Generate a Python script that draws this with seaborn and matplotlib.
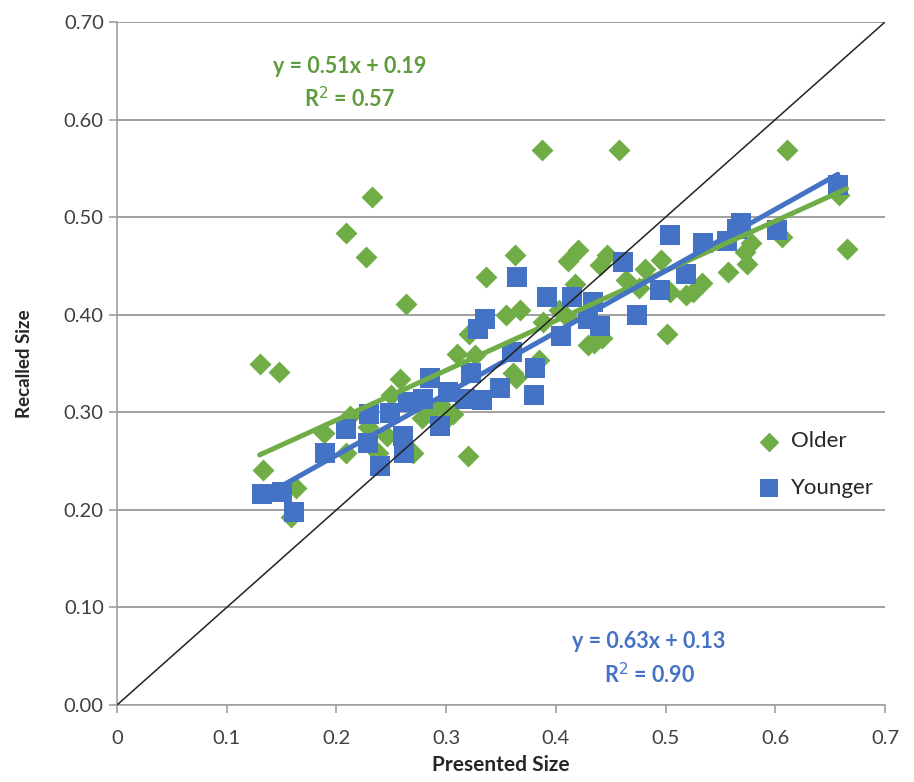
import numpy as np
import pandas as pd
import seaborn as sns
import matplotlib.pyplot as plt
from matplotlib.ticker import FixedLocator, FuncFormatter

# Older participants (green diamonds)
older_x = [0.130, 0.148, 0.133, 0.163, 0.159, 0.189, 0.209, 0.227, 0.232, 0.209,
           0.212, 0.229, 0.238, 0.246, 0.250, 0.258, 0.263, 0.270, 0.278, 0.285,
           0.294, 0.303, 0.306, 0.310, 0.320, 0.321, 0.326, 0.336, 0.355, 0.361,
           0.364, 0.363, 0.367, 0.385, 0.388, 0.387, 0.403, 0.410, 0.417, 0.411,
           0.420, 0.429, 0.435, 0.442, 0.440, 0.447, 0.458, 0.464, 0.476, 0.481,
           0.496, 0.501, 0.504, 0.519, 0.525, 0.533, 0.557, 0.574, 0.572, 0.578,
           0.606, 0.611, 0.658, 0.665]
older_y = [0.350, 0.341, 0.241, 0.222, 0.193, 0.279, 0.484, 0.459, 0.521, 0.258,
           0.296, 0.285, 0.258, 0.276, 0.318, 0.334, 0.411, 0.258, 0.294, 0.299,
           0.308, 0.296, 0.298, 0.360, 0.255, 0.380, 0.359, 0.439, 0.400, 0.340,
           0.335, 0.461, 0.405, 0.354, 0.393, 0.569, 0.405, 0.398, 0.431, 0.455,
           0.466, 0.369, 0.371, 0.376, 0.451, 0.461, 0.569, 0.436, 0.427, 0.447,
           0.456, 0.380, 0.423, 0.420, 0.423, 0.432, 0.444, 0.452, 0.464, 0.474,
           0.480, 0.569, 0.523, 0.467]

# Younger participants (blue squares)
younger_x = [0.132, 0.150, 0.161, 0.190, 0.209, 0.229, 0.240, 0.230, 0.249, 0.261,
             0.262, 0.265, 0.279, 0.285, 0.294, 0.302, 0.317, 0.323, 0.329, 0.333,
             0.335, 0.349, 0.360, 0.365, 0.380, 0.381, 0.392, 0.405, 0.415, 0.429,
             0.434, 0.440, 0.461, 0.474, 0.495, 0.504, 0.519, 0.534, 0.556, 0.565,
             0.569, 0.602, 0.657]
younger_y = [0.216, 0.218, 0.198, 0.258, 0.283, 0.269, 0.245, 0.298, 0.299, 0.276,
             0.258, 0.311, 0.314, 0.335, 0.286, 0.321, 0.314, 0.340, 0.385, 0.313,
             0.396, 0.325, 0.362, 0.439, 0.318, 0.345, 0.418, 0.378, 0.418, 0.396,
             0.413, 0.388, 0.454, 0.400, 0.425, 0.482, 0.442, 0.474, 0.476, 0.488,
             0.494, 0.487, 0.533]

# trendline coefficients as printed on the chart
older_fit = (0.51, 0.19)
younger_fit = (0.63, 0.13)
older_eq = "y = 0.51x + 0.19\nR$^2$ = 0.57"
younger_eq = "y = 0.63x + 0.13\nR$^2$ = 0.90"

green = "#70AD47"
blue = "#4472C4"
green_txt = "#5E9B3C"
grid_col = "#A0A0A0"

sns.set_style("white")
plt.rcParams['font.family'] = ['Lato', 'DejaVu Sans']

older = pd.DataFrame({"x": older_x, "y": older_y})
younger = pd.DataFrame({"x": younger_x, "y": younger_y})


def trend(xs, fit):
    xr = np.array([min(xs), max(xs)])
    return pd.DataFrame({"x": xr, "y": fit[0] * xr + fit[1]})


fig = plt.figure(figsize=(9.14, 7.82), dpi=100)
ax = fig.add_axes([117 / 914, 1 - 705 / 782, 768 / 914, 683 / 782])

sns.scatterplot(data=older, x="x", y="y", marker="D", s=125, color=green,
                linewidth=0, ax=ax, label="Older", zorder=3)
sns.scatterplot(data=younger, x="x", y="y", marker="s", s=210, color=blue,
                linewidth=0, ax=ax, label="Younger", zorder=3)
sns.lineplot(data=trend(older_x, older_fit), x="x", y="y", color=green,
             lw=3.6, zorder=4, ax=ax, legend=False)
sns.lineplot(data=trend(younger_x, younger_fit), x="x", y="y", color=blue,
             lw=3.6, zorder=5, ax=ax, legend=False)
ax.axline((0, 0), slope=1, color="#222222", lw=1.1, zorder=6)

ax.set_xlim(0, 0.7)
ax.set_ylim(0, 0.7)
ax.yaxis.set_major_locator(FixedLocator(np.arange(0, 0.71, 0.1)))
ax.xaxis.set_major_locator(FixedLocator(np.arange(0, 0.71, 0.1)))
ax.yaxis.set_major_formatter(FuncFormatter(lambda v, p: f"{v:.2f}"))
ax.xaxis.set_major_formatter(FuncFormatter(lambda v, p: "0" if abs(v) < 1e-9 else f"{v:.1f}"))
ax.grid(axis="y", color=grid_col, lw=1.4, zorder=0)
ax.grid(axis="x", visible=False)

for s in ["top", "right"]:
    ax.spines[s].set_visible(False)
for s in ["left", "bottom"]:
    ax.spines[s].set_color(grid_col)
    ax.spines[s].set_linewidth(1.2)

ax.tick_params(axis="both", direction="out", length=6, width=1.2, color=grid_col,
               labelsize=14.5, labelcolor="#404040", left=True, bottom=True)
ax.tick_params(axis="x", pad=12)
ax.set_xlabel("Presented Size", fontsize=15, fontweight="bold", color="#262626", labelpad=6)
ax.set_ylabel("Recalled Size", fontsize=13.5, fontweight="bold", color="#262626", labelpad=22)

ax.text(0.212, 0.637, older_eq, color=green_txt, fontsize=15.5, fontweight="bold",
        ha="center", va="center", linespacing=1.45)
ax.text(0.485, 0.047, younger_eq, color=blue, fontsize=15.5, fontweight="bold",
        ha="center", va="center", linespacing=1.45)

ax.legend(loc=(0.82, 0.303), frameon=False, fontsize=16, labelspacing=1.2,
          handletextpad=0.0, borderpad=0, markerscale=0.9)

fig.savefig("out.png", dpi=100)
